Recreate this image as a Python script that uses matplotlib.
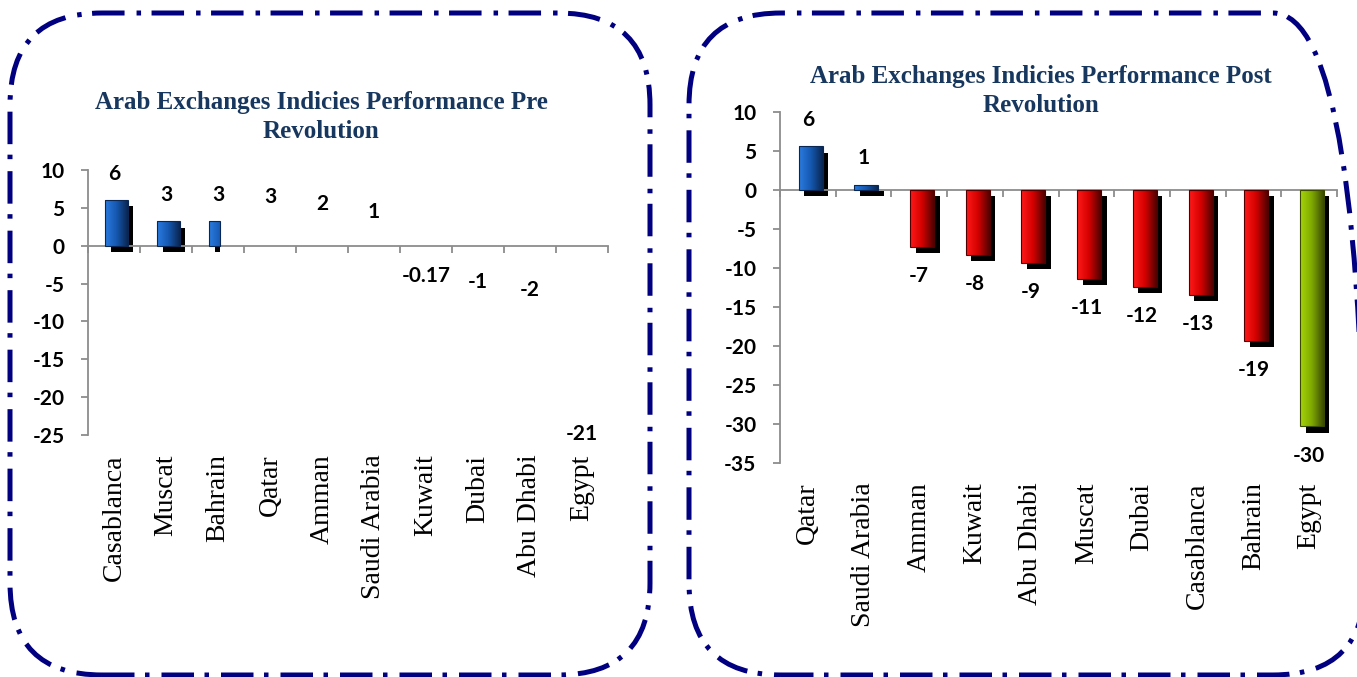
import numpy as np
import matplotlib
matplotlib.use("Agg")
import matplotlib.pyplot as plt
from matplotlib.patches import Rectangle, FancyBboxPatch
from matplotlib.colors import LinearSegmentedColormap
from matplotlib.transforms import IdentityTransform, blended_transform_factory

plt.rcParams['axes.unicode_minus'] = False

# data
pre_names = ['Casablanca', 'Muscat', 'Bahrain', 'Qatar', 'Amman', 'Saudi Arabia',
             'Kuwait', 'Dubai', 'Abu Dhabi', 'Egypt']
pre_values = [6.0, 3.2, 3.2, 3.0, 2.0, 1.0, -0.17, -1.0, -2.0, -21.0]

post_names = ['Qatar', 'Saudi Arabia', 'Amman', 'Kuwait', 'Abu Dhabi', 'Muscat',
              'Dubai', 'Casablanca', 'Bahrain', 'Egypt']
post_values = [5.6, 0.7, -7.3, -8.3, -9.3, -11.4, -12.4, -13.4, -19.3, -30.3]

pre_title = ['Arab Exchanges Indicies Performance Pre', 'Revolution']
post_title = ['Arab Exchanges Indicies Performance Post', 'Revolution']

BLUE = ['#2a7be0', '#1558b0', '#0a2652']
RED = ['#ff1a1a', '#d40000', '#500000']
GREEN = ['#a6d40a', '#7fa800', '#3a4a00']
NAVY = '#000080'
TITLE_C = '#17375e'
GRID_C = '#8c8c8c'

W, H = 1357, 677
fig = plt.figure(figsize=(W / 100, H / 100), dpi=100)

# dash-dot rounded frames, drawn in pixels
for x0, w in [(10, 640), (689, 676)]:
    box = FancyBboxPatch((x0, 2), w, 662, boxstyle='round,pad=0,rounding_size=92',
                         transform=IdentityTransform(), fill=False, ec=NAVY, lw=3.6,
                         ls=(0, (6.5, 2.1, 0.9, 2.4)))
    fig.add_artist(box)


def bar_colors(name, v):
    if name == 'Egypt' and v < -25:
        return GREEN
    return BLUE if v > 0 else RED


def fmt(v):
    return f'{v:.2f}' if abs(v) < 0.5 else f'{int(round(v))}'


def gradient_bar(ax, x, v, cols, cut=None):
    w = 0.43
    left, right = x - w / 2 + 0.05, x + w / 2 + 0.05
    sl, sr = left + 0.1, right + 0.1
    if cut is not None:
        right = min(right, cut)
        sr = min(sr, cut)
    dy = -0.8
    if sr > sl:
        ax.add_patch(Rectangle((sl, min(0, v) + dy), sr - sl, abs(v), fc='black',
                               ec='none', zorder=2))
    if right <= left:
        return
    lo, hi = min(0, v), max(0, v)
    rect = Rectangle((left, lo), right - left, hi - lo, fc='none', ec='none', zorder=3)
    ax.add_patch(rect)
    cmap = LinearSegmentedColormap.from_list('g', cols)
    grad = np.linspace(0, 1, 64).reshape(1, -1)
    full_r = x + w / 2 + 0.05
    im = ax.imshow(grad, extent=[left, full_r, lo, hi], cmap=cmap, aspect='auto',
                   origin='lower', zorder=3, interpolation='bilinear')
    im.set_clip_path(rect)
    ax.add_patch(Rectangle((left, lo), right - left, hi - lo, fc='none', ec=cols[2],
                           lw=0.8, zorder=4))


def draw(ax, names, values, ylim, step, cut=None):
    n = len(names)
    trans = blended_transform_factory(ax.transData, ax.transAxes)
    for i, (nm, v) in enumerate(zip(names, values)):
        gradient_bar(ax, i, v, bar_colors(nm, v), cut)
        off = 19 if v > 0 else -21
        ax.annotate(fmt(v), (i, v), xytext=(0, off), textcoords='offset points',
                    ha='center', va='center', fontsize=15, fontweight='bold',
                    family='Lato', color='black', zorder=5)
        ax.annotate(nm, xy=(i, 0), xycoords=trans, xytext=(0, -14),
                    textcoords='offset points', rotation=90, ha='center', va='top',
                    fontsize=20, family='Liberation Serif', color='black')
    ax.set_xlim(-0.5, n - 0.5)
    ax.set_ylim(*ylim)
    ax.set_yticks(np.arange(ylim[0], ylim[1] + 1, step))
    ax.set_xticks(np.arange(-0.5, n, 1.0))
    ax.set_xticklabels([])
    for s in ['top', 'right']:
        ax.spines[s].set_visible(False)
    ax.spines['bottom'].set_position(('data', 0))
    for s in ['left', 'bottom']:
        ax.spines[s].set_color(GRID_C)
        ax.spines[s].set_linewidth(1.3)
    ax.tick_params(axis='both', direction='out', color=GRID_C, width=1.3, length=5)
    ax.tick_params(axis='y', pad=12, labelsize=15)
    for t in ax.get_yticklabels():
        t.set_fontweight('bold')
        t.set_family('Lato')
    ax.patch.set_alpha(0)


ax1 = fig.add_axes([88 / W, 1 - 435 / H, 520 / W, 265 / H])
draw(ax1, pre_names, pre_values, (-25, 10), 5, cut=2.03)

ax2 = fig.add_axes([780 / W, 1 - 463 / H, 557 / W, 351 / H])
draw(ax2, post_names, post_values, (-35, 10), 5)

# two-line titles, one text per line
for (cx, y1, y2), lines in [((321, 103, 132), pre_title), ((1041, 76, 105), post_title)]:
    for y, line in zip((y1, y2), lines):
        fig.text(cx / W, 1 - y / H, line, ha='center', va='center', fontsize=18,
                 fontweight='bold', family='Liberation Serif', color=TITLE_C)

fig.savefig('out.png', dpi=100)
